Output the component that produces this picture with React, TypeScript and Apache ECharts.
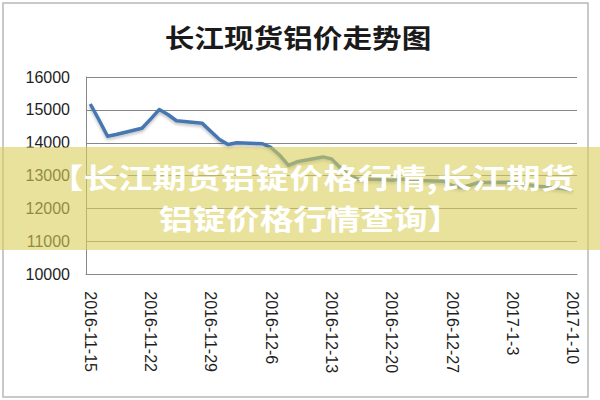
import React, { useEffect, useRef } from 'react';
import * as echarts from 'echarts';

const titleText = '长江现货铝价走势图';
const bannerLines = ['【长江期货铝锭价格行情,长江期货', '铝锭价格行情查询】'];

// trading days and spot prices (yuan/ton)
const tradeDates = [
  '2016-11-15', '2016-11-16', '2016-11-17', '2016-11-18',
  '2016-11-21', '2016-11-22', '2016-11-23', '2016-11-24', '2016-11-25',
  '2016-11-28', '2016-11-29', '2016-11-30', '2016-12-1', '2016-12-2',
  '2016-12-5', '2016-12-6', '2016-12-7', '2016-12-8', '2016-12-9',
  '2016-12-12', '2016-12-13', '2016-12-14', '2016-12-15', '2016-12-16',
  '2016-12-19', '2016-12-20', '2016-12-21', '2016-12-22', '2016-12-23',
  '2016-12-26', '2016-12-27', '2016-12-28', '2016-12-29', '2016-12-30',
  '2017-1-3', '2017-1-4', '2017-1-5', '2017-1-6',
  '2017-1-9', '2017-1-10',
];
const prices = [
  15180, 14700, 14200, 14250,
  14440, 14720, 15010, 14860, 14670,
  14590, 14340, 14100, 13950, 14000,
  13970, 13850, 13620, 13310, 13420,
  13570, 13510, 13250, 13020, 12900,
  12880, 12860, 12900, 12880, 12850,
  12830, 12700, 12640, 12700, 12790,
  12800, 12760, 12720, 12680,
  12600, 12560,
];

const yMin = 10000;
const yMax = 16000;
const yStep = 1000;

function parseDate(s: string) {
  const [y, m, d] = s.split('-').map(Number);
  return Date.UTC(y, m - 1, d);
}
function fmtDate(t: number) {
  const d = new Date(t);
  return `${d.getUTCFullYear()}-${d.getUTCMonth() + 1}-${d.getUTCDate()}`;
}

// calendar-day category axis (like an Excel date axis)
const categories: string[] = [];
for (let t = parseDate(tradeDates[0]); t <= parseDate(tradeDates[tradeDates.length - 1]); t += 86400000) {
  categories.push(fmtDate(t));
}
const priceByDate = new Map(tradeDates.map((d, i) => [d, prices[i]]));
const seriesData = categories.map((c) => (priceByDate.has(c) ? priceByDate.get(c) : null));

export default function App() {
  const ref = useRef<HTMLDivElement>(null);
  useEffect(() => {
    if (!ref.current) return;
    const chart = echarts.init(ref.current, undefined, { renderer: 'svg' });
    const gray = '#878787';
    const bannerTextStyle = {
      fontSize: 28,
      fontWeight: 'bold',
      fontFamily: 'Noto Sans CJK SC',
      fill: '#ffffff',
      align: 'center',
      verticalAlign: 'middle',
      textAlign: 'center',
      textVerticalAlign: 'middle',
    };
    chart.setOption({
      animation: false,
      backgroundColor: '#ffffff',
      grid: { left: 86, right: 23, top: 77, bottom: 125.7 },
      xAxis: {
        type: 'category',
        data: categories,
        boundaryGap: true,
        axisLine: { show: true, lineStyle: { color: gray, width: 1 } },
        axisTick: { show: false },
        splitLine: { show: false },
        axisLabel: {
          interval: 6,
          rotate: -90,
          margin: 17,
          fontSize: 16,
          fontFamily: 'Liberation Sans',
          color: '#1e1e1e',
        },
      },
      yAxis: {
        type: 'value',
        min: yMin,
        max: yMax,
        interval: yStep,
        axisLine: { show: true, lineStyle: { color: gray, width: 1 } },
        axisTick: { show: false },
        splitLine: { show: true, lineStyle: { color: gray, width: 1 } },
        axisLabel: {
          margin: 16,
          fontSize: 16,
          fontFamily: 'Liberation Sans',
          color: '#1e1e1e',
          formatter: (v: number) => String(v),
        },
      },
      series: [
        {
          type: 'line',
          data: seriesData,
          connectNulls: true,
          symbol: 'none',
          showSymbol: false,
          lineStyle: {
            color: '#4677b0',
            width: 3.5,
            join: 'round',
            shadowColor: 'rgba(0,0,0,0.25)',
            shadowBlur: 3,
            shadowOffsetY: 2,
          },
          z: 2,
        },
      ],
      graphic: [
        {
          type: 'rect',
          silent: true,
          shape: { x: 3, y: 3, width: 585, height: 394 },
          style: { fill: 'none', stroke: '#b8b8b8', lineWidth: 1.5 },
          z: 0,
        },
        {
          type: 'text',
          x: 298,
          y: 37,
          scaleX: 1.14,
          style: {
            text: titleText,
            fontSize: 26,
            fontWeight: 'bold',
            fontFamily: 'Noto Sans CJK SC',
            fill: '#1a1a1a',
            align: 'center',
            verticalAlign: 'middle',
            textAlign: 'center',
            textVerticalAlign: 'middle',
          },
          z: 10,
        },
        {
          type: 'rect',
          silent: true,
          shape: { x: 0, y: 147, width: 600, height: 103 },
          style: { fill: 'rgba(216,206,90,0.6)' },
          z: 100,
        },
        {
          type: 'text',
          x: 312,
          y: 177,
          scaleX: 1.225,
          style: { ...bannerTextStyle, text: bannerLines[0] },
          z: 101,
        },
        {
          type: 'text',
          x: 310,
          y: 218,
          scaleX: 1.2,
          style: { ...bannerTextStyle, text: bannerLines[1] },
          z: 101,
        },
      ],
    });
    return () => chart.dispose();
  }, []);
  return (
    <div
      ref={ref}
      style={{ position: 'absolute', left: 0, top: 0, width: 600, height: 400 }}
    />
  );
}
